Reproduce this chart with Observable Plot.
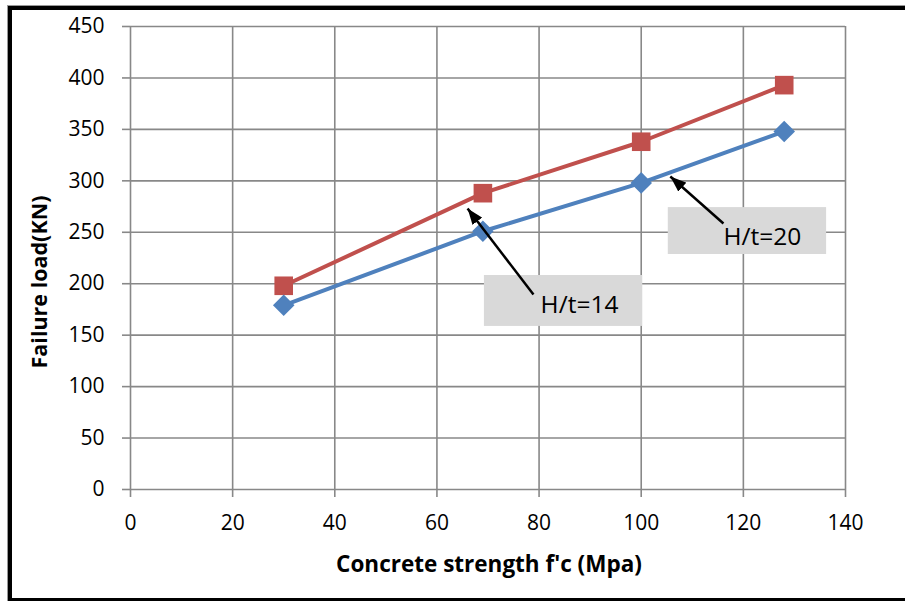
<!DOCTYPE html>
<html>
<head>
<meta charset="utf-8">
<script src="https://cdn.jsdelivr.net/npm/d3@7"></script>
<script src="https://cdn.jsdelivr.net/npm/@observablehq/plot@0.6"></script>
<style>
  html, body { margin: 0; padding: 0; background: #fff; }
  #wrap { position: relative; width: 905px; height: 601px; overflow: hidden; }
  #frame { position: absolute; left: 8px; top: 6px; width: 910px; height: 588px; border: 4px solid #000; box-shadow: -1px -1px 0 #999; box-sizing: content-box; pointer-events: none; }
  svg { display: block; }
</style>
</head>
<body>
<div id="wrap"><div id="frame"></div></div>
<script>
// Data
const fc = [30, 69, 100, 128];
const loadH14 = [198, 288, 338, 393];
const loadH20 = [179, 251, 298, 348];
const xTicks = [0, 20, 40, 60, 80, 100, 120, 140];
const yTicks = [0, 50, 100, 150, 200, 250, 300, 350, 400, 450];

// Callout annotations (data coordinates)
const calloutText = ["H/t=14", "H/t=20"];
const calloutX = [80.3, 116.1];
const calloutY = [179.4, 245];
const boxX1 = [69.3, 105.3];
const boxX2 = [100.3, 136.3];
const boxY1 = [158.5, 228.4];
const boxY2 = [208, 274];
const arrowFromX = [78.9, 116.1];
const arrowFromY = [189.6, 258.5];
const arrowToX = [66, 105.7];
const arrowToY = [273, 304.2];

const red = "#C0504D";
const blue = "#4F81BD";

const s14 = fc.map((x, i) => ({x, y: loadH14[i]}));
const s20 = fc.map((x, i) => ({x, y: loadH20[i]}));
const callouts = calloutText.map((t, i) => ({
  t, x: calloutX[i], y: calloutY[i],
  bx1: boxX1[i], bx2: boxX2[i], by1: boxY1[i], by2: boxY2[i],
  ax1: arrowFromX[i], ay1: arrowFromY[i], ax2: arrowToX[i], ay2: arrowToY[i]
}));

const chart = Plot.plot({
  width: 905,
  height: 601,
  marginLeft: 130,
  marginRight: 60,
  marginTop: 26,
  marginBottom: 112,
  style: {fontFamily: "'Open Sans', sans-serif", fontSize: "21px", background: "transparent", color: "#000"},
  x: {domain: [0, 140], ticks: xTicks},
  y: {domain: [0, 450], ticks: yTicks},
  marks: [
    Plot.gridX(xTicks, {stroke: "#888", strokeOpacity: 1, strokeWidth: 1.6}),
    Plot.gridY(yTicks, {stroke: "#888", strokeOpacity: 1, strokeWidth: 1.6}),
    Plot.axisX({ticks: xTicks, tickSize: 8, tickPadding: 18, stroke: "#888", strokeWidth: 1.6, label: null, fontSize: 21, fill: "#000"}),
    Plot.axisY({ticks: yTicks, tickSize: 8, tickPadding: 18, stroke: "#888", strokeWidth: 1.6, label: null, fontSize: 21, fill: "#000"}),
    Plot.line(s14, {x: "x", y: "y", stroke: red, strokeWidth: 4}),
    Plot.line(s20, {x: "x", y: "y", stroke: blue, strokeWidth: 4}),
    Plot.dot(s14, {x: "x", y: "y", symbol: "square", r: 10.5, fill: red, stroke: red, strokeWidth: 0}),
    Plot.dot(s20, {x: "x", y: "y", symbol: "diamond2", r: 9.7, fill: blue, stroke: blue, strokeWidth: 0}),
    Plot.rect(callouts, {x1: "bx1", x2: "bx2", y1: "by1", y2: "by2", fill: "#D9D9D9"}),
    Plot.link(callouts, {x1: "ax1", y1: "ay1", x2: "ax2", y2: "ay2", stroke: "#000", strokeWidth: 2.5, className: "callout-arrow"}),
    Plot.text(callouts, {x: "x", y: "y", text: "t", textAnchor: "start", fontSize: 24.5, fill: "#000"})
  ]
});

const svg = d3.select(chart);
svg.append("defs").append("marker")
  .attr("id", "callout-head")
  .attr("viewBox", "0 0 16 12")
  .attr("refX", 16).attr("refY", 6)
  .attr("markerWidth", 16).attr("markerHeight", 12)
  .attr("markerUnits", "userSpaceOnUse")
  .attr("orient", "auto")
  .append("path")
  .attr("d", "M0,0L16,6L0,12Z")
  .attr("fill", "#000");
svg.selectAll(".callout-arrow path, path.callout-arrow, .callout-arrow line").attr("marker-end", "url(#callout-head)");

svg.append("text")
  .attr("x", 489).attr("y", 572)
  .attr("text-anchor", "middle")
  .attr("font-weight", "bold")
  .attr("font-size", 22.5)
  .attr("fill", "#000")
  .text("Concrete strength f'c (Mpa)");
svg.append("text")
  .attr("transform", "translate(47,282) rotate(-90)")
  .attr("text-anchor", "middle")
  .attr("font-weight", "bold")
  .attr("font-size", 21.5)
  .attr("fill", "#000")
  .text("Failure load(KN)");

document.getElementById("wrap").prepend(chart);
</script>
</body>
</html>
